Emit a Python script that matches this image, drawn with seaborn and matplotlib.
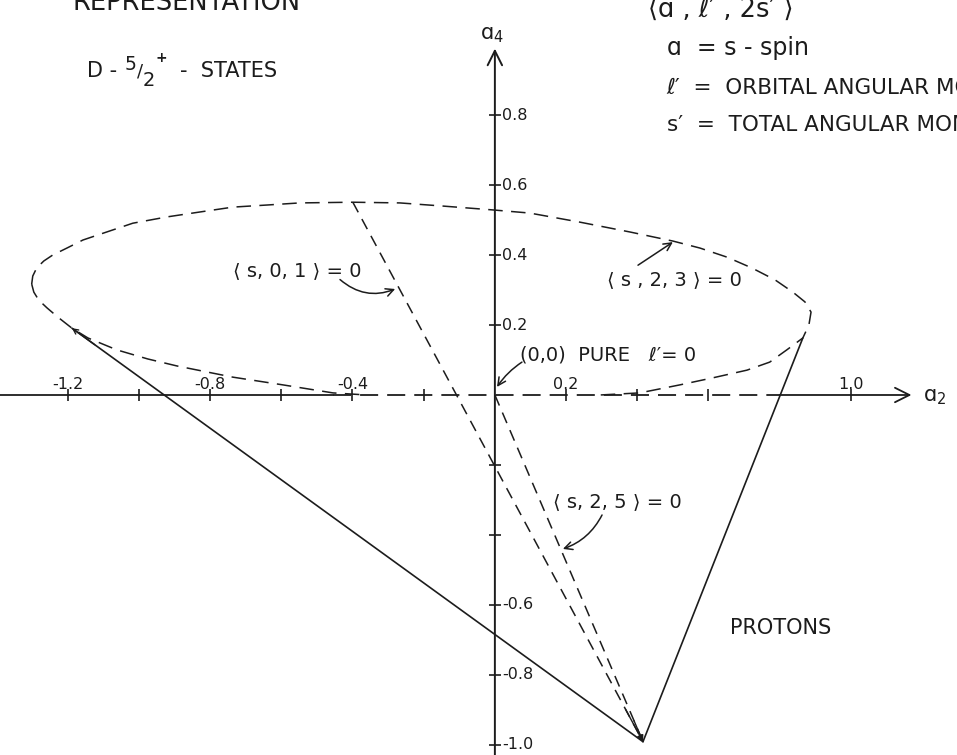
import numpy as np
import pandas as pd
import matplotlib
matplotlib.use("Agg")
import matplotlib.pyplot as plt
import seaborn as sns

# ---- boundary of the allowed region (closed dashed curve), a2 / a4 coordinates ----
upper_a2 = [-1.301, -1.298, -1.287, -1.267, -1.242, -1.202, -1.157, -1.090, -1.017,
            -0.921, -0.829, -0.736, -0.640, -0.548, -0.399, -0.267, -0.146, -0.006,
            0.098, 0.239, 0.379, 0.500, 0.576, 0.652, 0.722, 0.787, 0.837, 0.871,
            0.888, 0.882, 0.865, 0.820, 0.772, 0.708, 0.612, 0.520, 0.407, 0.295]
upper_a4 = [0.317, 0.340, 0.363, 0.383, 0.400, 0.420, 0.443, 0.466, 0.491,
            0.509, 0.523, 0.537, 0.543, 0.549, 0.551, 0.549, 0.540, 0.529,
            0.520, 0.494, 0.466, 0.440, 0.420, 0.394, 0.363, 0.329, 0.294, 0.266,
            0.237, 0.200, 0.163, 0.129, 0.094, 0.071, 0.049, 0.029, 0.006, 0.000]
lower_a2 = [-1.301, -1.295, -1.281, -1.258, -1.228, -1.188, -1.143, -1.062, -0.975,
            -0.893, -0.736, -0.596, -0.455, -0.360]
lower_a4 = [0.317, 0.294, 0.271, 0.249, 0.223, 0.191, 0.163, 0.129, 0.103,
            0.083, 0.051, 0.029, 0.006, 0.000]

# ---- special points ----
vertex = (0.416, -0.991)
top_point = (-0.399, 0.551)
left_junction = (-1.188, 0.191)
right_junction = (0.865, 0.163)
origin = (0.0, 0.0)

# ---- axis ticks and labels ----
x_ticks = [-1.2, -1.0, -0.8, -0.6, -0.4, -0.2, 0.2, 0.4, 0.6, 1.0]
x_tick_labels = {-1.2: "-1.2", -0.8: "-0.8", -0.4: "-0.4", 0.2: "0.2", 1.0: "1.0"}
y_ticks = [-1.0, -0.8, -0.6, -0.4, -0.2, 0.2, 0.4, 0.6, 0.8]
y_tick_labels = {-1.0: "-1.0", -0.8: "-0.8", -0.6: "-0.6", 0.2: "0.2", 0.4: "0.4",
                 0.6: "0.6", 0.8: "0.8"}

sns.set_theme(style="white")
plt.rcParams["font.family"] = ["DejaVu Sans"]
plt.rcParams["mathtext.fontset"] = "dejavusans"

INK = "#1c1c1c"

fig = plt.figure(figsize=(9.57, 7.55), dpi=100)
ax = fig.add_axes([0, 0, 1, 1])
ax.set_xlim(-1.390, 1.298)
ax.set_ylim(-1.029, 1.129)
ax.axis("off")

# ---- dashed boundary curve ----
curve_style = dict(color=INK, lw=1.1, linestyle=(0, (9.5, 5.5)), estimator=None,
                   sort=False, ax=ax, legend=False)
sns.lineplot(data=pd.DataFrame({"a2": upper_a2, "a4": upper_a4}), x="a2", y="a4", **curve_style)
sns.lineplot(data=pd.DataFrame({"a2": lower_a2, "a4": lower_a4}), x="a2", y="a4", **curve_style)

# ---- straight dashed lines to the vertex ----
ray_style = dict(color=INK, lw=1.1, linestyle=(0, (7.5, 5.0)), estimator=None,
                 sort=False, ax=ax, legend=False)
for start in (top_point, origin):
    seg = pd.DataFrame({"a2": [start[0], vertex[0]], "a4": [start[1], vertex[1]]})
    sns.lineplot(data=seg, x="a2", y="a4", **ray_style)
    ax.annotate("", xy=vertex, xytext=(vertex[0] - 0.06 * (vertex[0] - start[0]),
                                       vertex[1] - 0.06 * (vertex[1] - start[1])),
                arrowprops=dict(arrowstyle="-|>", color=INK, lw=1.0,
                                mutation_scale=9, shrinkA=0, shrinkB=0))

# ---- solid lines (protons) ----
for start in (left_junction, right_junction):
    seg = pd.DataFrame({"a2": [start[0], vertex[0]], "a4": [start[1], vertex[1]]})
    sns.lineplot(data=seg, x="a2", y="a4", color=INK, lw=1.2, estimator=None,
                 sort=False, ax=ax, legend=False)
ax.annotate("", xy=left_junction,
            xytext=(left_junction[0] + 0.04 * (vertex[0] - left_junction[0]),
                    left_junction[1] + 0.04 * (vertex[1] - left_junction[1])),
            arrowprops=dict(arrowstyle="->", color=INK, lw=1.0,
                            mutation_scale=9, shrinkA=0, shrinkB=0))

# ---- coordinate axes ----
ax.plot([-1.390, -0.455], [0, 0], color=INK, lw=1.3)
ax.plot([-0.455, 0.80], [0, 0], color=INK, lw=1.3, linestyle=(0, (10, 5)))
ax.annotate("", xy=(1.17, 0), xytext=(0.80, 0),
            arrowprops=dict(arrowstyle="->", color=INK, lw=1.3,
                            mutation_scale=26, shrinkA=0, shrinkB=0))
ax.annotate("", xy=(0, 0.99), xytext=(0, -1.03),
            arrowprops=dict(arrowstyle="->", color=INK, lw=1.4,
                            mutation_scale=26, shrinkA=0, shrinkB=0))

ax.plot(x_ticks, [0] * len(x_ticks), linestyle="none", marker="|",
        markersize=8, markeredgewidth=1.2, color=INK)
ax.plot([0] * len(y_ticks), y_ticks, linestyle="none", marker="_",
        markersize=8, markeredgewidth=1.2, color=INK)

for v, lab in x_tick_labels.items():
    ax.annotate(lab, xy=(v, 0), xytext=(0, 2), textcoords="offset points",
                ha="center", va="bottom", fontsize=11.5, color=INK)
for v, lab in y_tick_labels.items():
    ax.annotate(lab, xy=(0, v), xytext=(5, 0), textcoords="offset points",
                ha="left", va="center", fontsize=11.5, color=INK)

ax.text(-0.008, 1.03, "ɑ$_4$", ha="center", va="center", fontsize=15, color=INK)
ax.text(1.236, -0.006, "ɑ$_2$", ha="center", va="center", fontsize=15, color=INK)

# ---- labels with pointers ----
lab_kw = dict(fontsize=14, color=INK, va="center", ha="left")
ax.text(-0.736, 0.357, "⟨ s, 0, 1 ⟩ = 0", **lab_kw)
ax.annotate("", xy=(-0.28, 0.303), xytext=(-0.435, 0.330),
            arrowprops=dict(arrowstyle="->", color=INK, lw=1.1, mutation_scale=14,
                            connectionstyle="arc3,rad=0.3", shrinkA=0, shrinkB=0))

ax.text(0.315, 0.329, "⟨ s , 2, 3 ⟩ = 0", **lab_kw)
ax.annotate("", xy=(0.500, 0.437), xytext=(0.402, 0.371),
            arrowprops=dict(arrowstyle="->", color=INK, lw=1.1, mutation_scale=14,
                            shrinkA=0, shrinkB=0))

ax.text(0.070, 0.114, "(0,0)  PURE   ℓ′= 0", **lab_kw)
ax.annotate("", xy=(0.006, 0.023), xytext=(0.076, 0.094),
            arrowprops=dict(arrowstyle="->", color=INK, lw=1.1, mutation_scale=14,
                            connectionstyle="arc3,rad=0.1", shrinkA=0, shrinkB=0))

ax.text(0.163, -0.306, "⟨ s, 2, 5 ⟩ = 0", **lab_kw)
ax.annotate("", xy=(0.191, -0.440), xytext=(0.301, -0.343),
            arrowprops=dict(arrowstyle="->", color=INK, lw=1.1, mutation_scale=14,
                            connectionstyle="arc3,rad=-0.2", shrinkA=0, shrinkB=0))

ax.text(0.660, -0.666, "PROTONS", fontsize=15, color=INK, va="center", ha="left")

# ---- title block ----
ax.text(-1.185, 1.100, "REPRESENTATION", fontsize=18.5, color=INK,
        va="baseline", ha="left")
ax.text(-1.146, 0.926, "D -", fontsize=15, color=INK, va="center", ha="left")
ax.text(-1.039, 0.944, "5", fontsize=13.5, color=INK, va="center", ha="left")
ax.text(-0.997, 0.926, "/", fontsize=13, color=INK, va="center", ha="center")
ax.text(-0.989, 0.899, "2", fontsize=14, color=INK, va="center", ha="left")
ax.text(-0.952, 0.962, "+", fontsize=10, color=INK, va="center", ha="left",
        fontweight="bold")
ax.text(-0.885, 0.926, "-  STATES", fontsize=15, color=INK, va="center", ha="left")

# ---- notation key ----
ax.text(0.430, 1.080, "⟨ɑ , ℓ′ , 2s′ ⟩", fontsize=18.5, color=INK,
        va="baseline", ha="left")
ax.text(0.483, 0.991, "ɑ  = s - spin", fontsize=17, color=INK, va="center", ha="left")
ax.text(0.483, 0.877, "ℓ′  =  ORBITAL ANGULAR MOMENTUM", fontsize=15.5, color=INK,
        va="center", ha="left")
ax.text(0.483, 0.771, "s′  =  TOTAL ANGULAR MOMENTUM", fontsize=15.5, color=INK,
        va="center", ha="left")

fig.savefig("out.png", dpi=100, facecolor="white")
